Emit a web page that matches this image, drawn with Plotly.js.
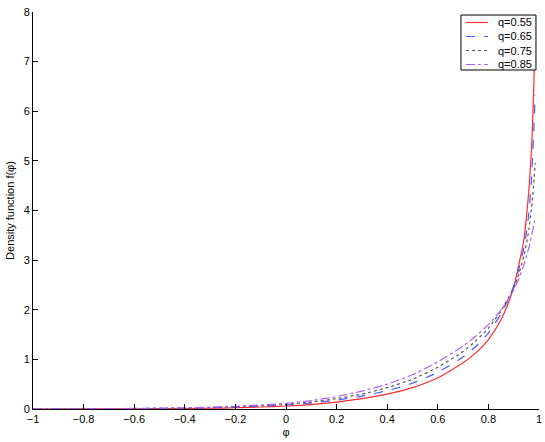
<!DOCTYPE html>
<html>
<head>
<meta charset="utf-8">
<script src="https://cdn.plot.ly/plotly-3.0.1.min.js"></script>
<style>html,body{margin:0;padding:0;background:#fff;}#chart{width:545px;height:442px;}</style>
</head>
<body>
<div id="chart"></div>
<script>
const phi = [-1, -0.8, -0.6, -0.4, -0.3, -0.2, -0.1, 0, 0.1, 0.2, 0.3, 0.4, 0.5, 0.6, 0.7, 0.75, 0.8, 0.85, 0.88, 0.9, 0.92, 0.94, 0.95, 0.96, 0.97, 0.975, 0.98, 0.985];
const fQ055 = [0, 0.001, 0.003, 0.01, 0.015, 0.025, 0.04, 0.06, 0.09, 0.14, 0.21, 0.30, 0.43, 0.63, 0.93, 1.13, 1.40, 1.8, 2.15, 2.45, 2.9, 3.4, 3.85, 4.4, 5.2, 5.8, 6.6, 7.8];
const fQ065 = [0, 0.002, 0.006, 0.015, 0.025, 0.038, 0.055, 0.08, 0.12, 0.18, 0.26, 0.37, 0.52, 0.74, 1.05, 1.26, 1.53, 1.92, 2.22, 2.48, 2.82, 3.25, 3.55, 3.95, 4.6, 5.1, 5.7, 6.33];
const fQ075 = [0.001, 0.003, 0.008, 0.02, 0.03, 0.045, 0.065, 0.095, 0.14, 0.21, 0.30, 0.43, 0.6, 0.84, 1.16, 1.37, 1.63, 1.98, 2.25, 2.45, 2.72, 3.08, 3.32, 3.62, 4.02, 4.28, 4.6, 4.96];
const fQ085 = [0.002, 0.005, 0.012, 0.025, 0.037, 0.055, 0.08, 0.115, 0.17, 0.25, 0.36, 0.50, 0.69, 0.95, 1.27, 1.47, 1.70, 2.0, 2.22, 2.4, 2.62, 2.9, 3.07, 3.25, 3.48, 3.6, 3.72, 3.87];
const seriesNames = ['q=0.55', 'q=0.65', 'q=0.75', 'q=0.85'];
const xTicks = [-1, -0.8, -0.6, -0.4, -0.2, 0, 0.2, 0.4, 0.6, 0.8, 1];
const yTicks = [0, 1, 2, 3, 4, 5, 6, 7, 8];

const styles = [
  {color: '#ff2a2a', dash: 'solid'},
  {color: '#4a5cff', dash: 'dash'},
  {color: '#555555', dash: 'dot'},
  {color: '#b45cff', dash: 'dashdot'}
];
const ys = [fQ055, fQ065, fQ075, fQ085];
const traces = ys.map((y, i) => ({
  x: phi, y: y, type: 'scatter', mode: 'lines', name: seriesNames[i],
  line: {color: styles[i].color, dash: styles[i].dash, width: 1.2, shape: 'spline', smoothing: 0.6}
}));

// Compact boxed legend (MATLAB style) in paper coordinates
const legX0 = 0.8458, legX1 = 0.994, legY0 = 0.8539, legY1 = 0.9924;
const rowY = [0.9736, 0.9383, 0.9030, 0.8678];
const shapes = [{type: 'rect', xref: 'paper', yref: 'paper', x0: legX0, x1: legX1, y0: legY0, y1: legY1,
  line: {color: '#000', width: 1}, fillcolor: '#fff', layer: 'above'}];
const annotations = [];
seriesNames.forEach((n, i) => {
  shapes.push({type: 'line', xref: 'paper', yref: 'paper', x0: 0.8557, x1: 0.8992, y0: rowY[i], y1: rowY[i],
    line: {color: styles[i].color, dash: styles[i].dash, width: 1.2}, layer: 'above'});
  annotations.push({xref: 'paper', yref: 'paper', x: 0.915, y: rowY[i], xanchor: 'left', yanchor: 'middle',
    text: n, showarrow: false, font: {family: 'Liberation Sans, Arial, sans-serif', size: 11, color: '#000'}});
});

const font = {family: 'Liberation Sans, Arial, sans-serif', size: 11, color: '#000'};
const layout = {
  width: 545, height: 442,
  margin: {l: 33, r: 6, t: 12, b: 33},
  paper_bgcolor: '#fff', plot_bgcolor: '#fff',
  font: font,
  showlegend: false,
  shapes: shapes,
  annotations: annotations,
  xaxis: {
    range: [-1, 1], tickvals: xTicks, ticktext: xTicks.map(v => v < 0 ? '\u2212' + Math.abs(v) : String(v)),
    ticks: 'inside', ticklen: 5, tickcolor: '#000', showline: true, linecolor: '#000', linewidth: 1,
    showgrid: false, zeroline: false, mirror: false,
    title: {text: 'φ', font: {size: 11}, standoff: 4}
  },
  yaxis: {
    range: [0, 8], tickvals: yTicks, ticks: 'inside', ticklen: 5, tickcolor: '#000',
    showline: true, linecolor: '#000', linewidth: 1, showgrid: false, zeroline: false,
    title: {text: 'Density function f(φ)', font: {size: 11}, standoff: 6}
  }
};
Plotly.newPlot('chart', traces, layout, {displayModeBar: false, staticPlot: true});
</script>
</body>
</html>
